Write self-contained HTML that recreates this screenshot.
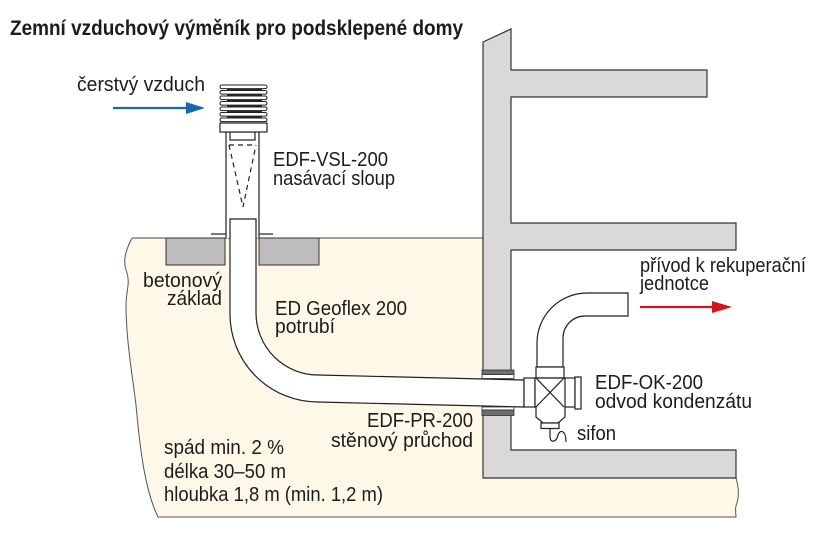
<!DOCTYPE html>
<html>
<head>
<meta charset="utf-8">
<style>
  html,body{margin:0;padding:0;background:#fff;}
  svg{display:block;}
  text{font-family:"Liberation Sans", Arial, sans-serif; fill:#1e1b1c;}
</style>
</head>
<body>
<svg width="831" height="540" viewBox="0 0 831 540" xmlns="http://www.w3.org/2000/svg">
  <!-- ground -->
  <path d="M132,238 L483,238 L483,478 L736,478 C739,488 739,498 736,506 C735,510 736,514 736,517 L158,517 C145,490 140,450 136,405 C133,380 126,340 126,305 C126,290 131,283 126,270 C122,258 128,246 132,238 Z"
        fill="#fdf8e7" stroke="none"/>
  <path d="M132,238 C128,246 122,258 126,270 C131,283 126,290 126,305 C126,340 133,380 136,405 C140,450 145,490 158,517 L736,517 C736,514 735,510 736,506 C739,498 739,488 736,478"
        fill="none" stroke="#555" stroke-width="1"/>
  <line x1="132" y1="238" x2="483" y2="238" stroke="#444" stroke-width="1"/>

  <!-- concrete blocks -->
  <rect x="166" y="238" width="59" height="27" fill="#bdbdbd" stroke="#333" stroke-width="1"/>
  <rect x="259" y="238" width="60" height="27" fill="#bdbdbd" stroke="#333" stroke-width="1"/>

  <!-- wall -->
  <path d="M483,42 L511,29 L511,70 L707,70 L707,97 L511,97 L511,223 L736,223 L736,250 L511,250 L511,450 L736,450 L736,478 L483,478 Z"
        fill="#d9d9d9" stroke="#333" stroke-width="1.2"/>

  <!-- column (nasávací sloup) -->
  <rect x="226" y="132" width="33" height="106" fill="#fff" stroke="none"/>
  <line x1="226" y1="132" x2="226" y2="238" stroke="#231f20" stroke-width="1.2"/>
  <line x1="259" y1="132" x2="259" y2="238" stroke="#231f20" stroke-width="1.2"/>
  <line x1="211" y1="234" x2="226" y2="234" stroke="#231f20" stroke-width="1.2"/>
  <line x1="259" y1="234" x2="273" y2="234" stroke="#231f20" stroke-width="1.2"/>
  <rect x="230" y="132" width="25" height="8" fill="#fff" stroke="#231f20" stroke-width="1.2"/>
  <!-- dashed cone -->
  <path d="M229,145 L256,145 M229,145 L243,207 L256,145" fill="none" stroke="#231f20" stroke-width="1.2" stroke-dasharray="5,4"/>
  <!-- louver hood -->
  <rect x="227" y="87" width="35" height="34" fill="#2b2b2b"/>
  <rect x="220" y="85" width="47" height="3.6" rx="1.7" fill="#fff" stroke="#231f20" stroke-width="1"/>
  <rect x="220" y="90.5" width="47" height="3.6" rx="1.7" fill="#fff" stroke="#231f20" stroke-width="1"/>
  <rect x="220" y="96" width="47" height="3.6" rx="1.7" fill="#fff" stroke="#231f20" stroke-width="1"/>
  <rect x="220" y="101.5" width="47" height="3.6" rx="1.7" fill="#fff" stroke="#231f20" stroke-width="1"/>
  <rect x="220" y="107" width="47" height="3.6" rx="1.7" fill="#fff" stroke="#231f20" stroke-width="1"/>
  <rect x="220" y="112.5" width="47" height="3.6" rx="1.7" fill="#fff" stroke="#231f20" stroke-width="1"/>
  <rect x="220" y="118" width="47" height="3.6" rx="1.7" fill="#fff" stroke="#231f20" stroke-width="1"/>
  <rect x="220" y="123" width="47" height="9" fill="#fff" stroke="#231f20" stroke-width="1.2"/>

  <!-- pipe (Geoflex) -->
  <path d="M230,219 L256,219 L256,313 A62,62 0 0 0 318,375 L524,380 L524,407 L318,402 A88,88 0 0 1 230,313 Z"
        fill="#fff" stroke="#231f20" stroke-width="1.2"/>

  <!-- wall sleeves -->
  <rect x="482" y="374.5" width="32" height="4" fill="#fff" stroke="#333" stroke-width="0.8"/>
  <rect x="482" y="370" width="32" height="4.5" fill="#6e6e6e" stroke="#333" stroke-width="0.8"/>
  <rect x="482" y="407" width="32" height="3" fill="#fff" stroke="#333" stroke-width="0.8"/>
  <rect x="482" y="410" width="32" height="5.5" fill="#6e6e6e" stroke="#333" stroke-width="0.8"/>

  <!-- elbow up to recuperation unit -->
  <path d="M537,367 L537,343 A50,50 0 0 1 587,293 L628,293 L628,316 L585,316 A22,22 0 0 0 563,338 L563,367 Z"
        fill="#fff" stroke="#231f20" stroke-width="1.2"/>

  <!-- condensate unit EDF-OK -->
  <g fill="#fff" stroke="#231f20" stroke-width="1.2">
    <rect x="524" y="378" width="11" height="29"/>
    <rect x="536" y="367" width="28" height="11"/>
    <rect x="564" y="378" width="11" height="29"/>
    <rect x="575" y="377" width="6" height="32"/>
    <path d="M535,378 L565,378 L565,417 L558,423 L543,423 L536,417 L536,407 L535,407 Z"/>
    <rect x="541" y="423" width="18" height="5.5"/>
  </g>
  <path d="M536,378 L564,407 M564,378 L536,407" stroke="#231f20" stroke-width="1.2"/>
  <!-- sifon -->
  <path d="M550,428.5 L550,436 Q550,442 554,441 Q557,440 558,435 Q560,430 563,432 Q566,434 566,442"
        fill="none" stroke="#231f20" stroke-width="1.2"/>

  <!-- arrows -->
  <line x1="113" y1="108" x2="190" y2="108" stroke="#1769a8" stroke-width="2.2"/>
  <path d="M186,102 L205,108 L186,114 Z" fill="#1769a8"/>
  <line x1="640" y1="307" x2="716" y2="307" stroke="#d6121b" stroke-width="2.2"/>
  <path d="M712,301 L732,307 L712,313 Z" fill="#d6121b"/>

  <!-- texts -->
  <text x="10" y="35" font-size="21" font-weight="bold" textLength="453" lengthAdjust="spacingAndGlyphs">Zemní vzduchový výměník pro podsklepené domy</text>

  <text x="77" y="91" font-size="20" textLength="128" lengthAdjust="spacingAndGlyphs">čerstvý vzduch</text>
  <text x="273" y="166" font-size="20" textLength="115" lengthAdjust="spacingAndGlyphs">EDF-VSL-200</text>
  <text x="273" y="185" font-size="20" textLength="122" lengthAdjust="spacingAndGlyphs">nasávací sloup</text>

  <text x="143" y="287" font-size="20" textLength="79" lengthAdjust="spacingAndGlyphs">betonový</text>
  <text x="167" y="305" font-size="20" textLength="55" lengthAdjust="spacingAndGlyphs">základ</text>

  <text x="275" y="315" font-size="20" textLength="132" lengthAdjust="spacingAndGlyphs">ED Geoflex 200</text>
  <text x="275" y="333" font-size="20" textLength="60" lengthAdjust="spacingAndGlyphs">potrubí</text>

  <text x="640" y="272" font-size="20" textLength="166" lengthAdjust="spacingAndGlyphs">přívod k rekuperační</text>
  <text x="640" y="290" font-size="20" textLength="69" lengthAdjust="spacingAndGlyphs">jednotce</text>

  <text x="595" y="389" font-size="20" textLength="108" lengthAdjust="spacingAndGlyphs">EDF-OK-200</text>
  <text x="595" y="408" font-size="20" textLength="157" lengthAdjust="spacingAndGlyphs">odvod kondenzátu</text>
  <text x="577" y="440" font-size="20" textLength="39" lengthAdjust="spacingAndGlyphs">sifon</text>

  <text x="367" y="427" font-size="20" textLength="106" lengthAdjust="spacingAndGlyphs">EDF-PR-200</text>
  <text x="331" y="447" font-size="20" textLength="142" lengthAdjust="spacingAndGlyphs">stěnový průchod</text>

  <text x="164" y="454" font-size="20" textLength="120" lengthAdjust="spacingAndGlyphs">spád min. 2 %</text>
  <text x="164" y="478" font-size="20" textLength="122" lengthAdjust="spacingAndGlyphs">délka 30–50 m</text>
  <text x="164" y="501" font-size="20" textLength="219" lengthAdjust="spacingAndGlyphs">hloubka 1,8 m (min. 1,2 m)</text>
</svg>
</body>
</html>
